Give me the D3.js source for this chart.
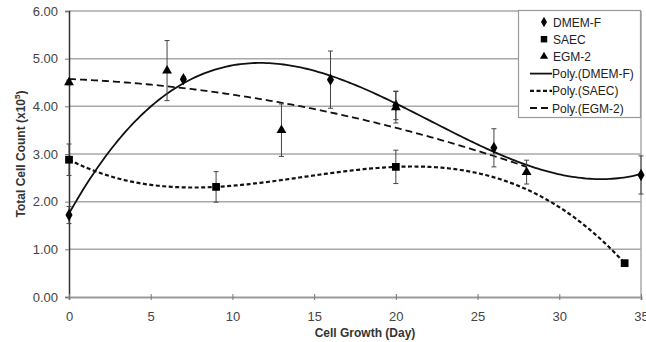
<!DOCTYPE html>
<html>
<head>
<meta charset="utf-8">
<script src="https://cdn.jsdelivr.net/npm/d3@7/dist/d3.min.js"></script>
<style>
  html, body { margin: 0; padding: 0; background: #fff; }
  svg { display: block; font-family: "Liberation Sans", Arial, sans-serif; }
</style>
</head>
<body>
<svg id="chart" width="646" height="342"></svg>
<script>
// data
var dmemDays = [0, 7, 16, 20, 26, 35];
var dmemVals = [1.72, 4.57, 4.56, 4.02, 3.13, 2.56];
var dmemErr  = [0.18, 0.05, 0.60, 0.30, 0.40, 0.40];

var saecDays = [0, 9, 20, 34];
var saecVals = [2.88, 2.31, 2.73, 0.71];
var saecErr  = [0.33, 0.32, 0.35, 0.03];

var egmDays = [0, 6, 13, 20, 28];
var egmVals = [4.50, 4.75, 3.50, 3.98, 2.62];
var egmErr  = [0.05, 0.63, 0.55, 0.33, 0.25];

var xTicks = [0, 5, 10, 15, 20, 25, 30, 35];
var yTicks = [0, 1, 2, 3, 4, 5, 6];

var legendNames = ['DMEM-F', 'SAEC', 'EGM-2', 'Poly.(DMEM-F)', 'Poly.(SAEC)', 'Poly.(EGM-2)'];

// least squares polynomial (what Excel's "Poly." trendline does)
function polyFit(xs, ys, order) {
  var n = order + 1, A = [], i, j, k;
  for (i = 0; i < n; i++) {
    A.push([]);
    for (j = 0; j <= n; j++) A[i].push(0);
  }
  xs.forEach(function (x, p) {
    for (i = 0; i < n; i++) {
      for (j = 0; j < n; j++) A[i][j] += Math.pow(x, i + j);
      A[i][n] += ys[p] * Math.pow(x, i);
    }
  });
  for (i = 0; i < n; i++) {
    var piv = i;
    for (k = i + 1; k < n; k++) if (Math.abs(A[k][i]) > Math.abs(A[piv][i])) piv = k;
    var tmp = A[i]; A[i] = A[piv]; A[piv] = tmp;
    for (k = i + 1; k < n; k++) {
      var f = A[k][i] / A[i][i];
      for (j = i; j <= n; j++) A[k][j] -= f * A[i][j];
    }
  }
  var c = new Array(n).fill(0);
  for (i = n - 1; i >= 0; i--) {
    var s = A[i][n];
    for (j = i + 1; j < n; j++) s -= A[i][j] * c[j];
    c[i] = s / A[i][i];
  }
  return function (x) { return c.reduce(function (a, ci, p) { return a + ci * Math.pow(x, p); }, 0); };
}

var svg = d3.select('#chart');
var x = d3.scaleLinear().domain([0, 35]).range([69, 641]);
var y = d3.scaleLinear().domain([0, 6]).range([297, 11]);

// gridlines
svg.append('g').selectAll('line').data(yTicks.slice(1)).join('line')
  .attr('x1', x(0)).attr('x2', x(35))
  .attr('y1', function (d) { return y(d); }).attr('y2', function (d) { return y(d); })
  .attr('stroke', '#a8a8a8').attr('stroke-width', 1.5);

// right border of plot area
svg.append('line').attr('x1', x(35)).attr('x2', x(35)).attr('y1', y(6)).attr('y2', y(0))
  .attr('stroke', '#a8a8a8').attr('stroke-width', 1.5);

// axes
var yAxis = svg.append('g').attr('transform', 'translate(' + x(0) + ',0)')
  .call(d3.axisLeft(y).tickValues(yTicks).tickFormat(d3.format('.2f')).tickSize(4).tickPadding(7));
var xAxis = svg.append('g').attr('transform', 'translate(0,' + y(0) + ')')
  .call(d3.axisBottom(x).tickValues(xTicks).tickSize(3).tickPadding(12));
yAxis.select('.domain').attr('stroke', '#333').attr('stroke-width', 1.5);
xAxis.select('.domain').attr('stroke', '#999').attr('stroke-width', 2);
svg.selectAll('.tick line').attr('stroke', '#777');
xAxis.selectAll('.tick line').attr('y1', -3);
svg.selectAll('.tick text').attr('fill', '#444').style('font-size', '13px').style('font-family', '"Liberation Sans", Arial, sans-serif');

// axis titles
svg.append('text').attr('x', 365).attr('y', 337).attr('text-anchor', 'middle')
  .style('font-size', '12px').style('font-weight', 'bold').attr('fill', '#333').text('Cell Growth (Day)');
var yt = svg.append('text').attr('transform', 'translate(25,154) rotate(-90)').attr('text-anchor', 'middle')
  .style('font-size', '12px').style('font-weight', 'bold').attr('fill', '#333');
yt.append('tspan').text('Total Cell Count (x10');
yt.append('tspan').attr('dy', -5).style('font-size', '8px').text('5');
yt.append('tspan').attr('dy', 5).text(')');

// trendlines
var series = [
  { days: dmemDays, vals: dmemVals, err: dmemErr, order: 3, sym: d3.symbolDiamond, size: 44, dash: null, w: 1.8 },
  { days: saecDays, vals: saecVals, err: saecErr, order: 3, sym: d3.symbolSquare, size: 60, dash: '4,2.5', w: 2.2 },
  { days: egmDays, vals: egmVals, err: egmErr, order: 2, sym: d3.symbolTriangle, size: 42, dash: '7,4', w: 1.8 }
];
var line = d3.line().x(function (d) { return x(d[0]); }).y(function (d) { return y(d[1]); });
series.forEach(function (s) {
  var f = polyFit(s.days, s.vals, s.order);
  var lo = d3.min(s.days), hi = d3.max(s.days);
  var pts = d3.range(0, 201).map(function (i) { var t = lo + (hi - lo) * i / 200; return [t, f(t)]; });
  svg.append('path').datum(pts).attr('d', line).attr('fill', 'none')
    .attr('stroke', '#111').attr('stroke-width', s.w).attr('stroke-dasharray', s.dash);
});

// error bars and markers
series.forEach(function (s) {
  var data = s.days.map(function (d, i) { return { d: d, v: s.vals[i], e: s.err[i] }; });
  var eb = svg.append('g').attr('stroke', '#444').attr('stroke-width', 1);
  eb.selectAll('line.v').data(data).join('line')
    .attr('x1', function (p) { return x(p.d); }).attr('x2', function (p) { return x(p.d); })
    .attr('y1', function (p) { return y(p.v - p.e); }).attr('y2', function (p) { return y(p.v + p.e); });
  [-1, 1].forEach(function (sg) {
    eb.selectAll('line.c' + sg).data(data).join('line')
      .attr('x1', function (p) { return x(p.d) - 2.5; }).attr('x2', function (p) { return x(p.d) + 2.5; })
      .attr('y1', function (p) { return y(p.v + sg * p.e); }).attr('y2', function (p) { return y(p.v + sg * p.e); });
  });
  svg.append('g').selectAll('path').data(data).join('path')
    .attr('d', d3.symbol().type(s.sym).size(s.size))
    .attr('transform', function (p) { return 'translate(' + x(p.d) + ',' + y(p.v) + ')'; })
    .attr('fill', '#000');
});

// legend
var lg = svg.append('g');
lg.append('rect').attr('x', 518.5).attr('y', 10.5).attr('width', 122).attr('height', 107)
  .attr('fill', '#fff').attr('stroke', '#999').attr('stroke-width', 1.2);
var rowY = d3.scalePoint().domain(legendNames).range([22, 108]);
legendNames.forEach(function (name, i) {
  var ry = rowY(name);
  if (i < 3) {
    lg.append('path').attr('d', d3.symbol().type(series[i].sym).size(series[i].size * 0.7))
      .attr('transform', 'translate(544,' + ry + ')').attr('fill', '#000');
  } else {
    lg.append('line').attr('x1', 530).attr('x2', 552).attr('y1', ry).attr('y2', ry)
      .attr('stroke', '#111').attr('stroke-width', series[i - 3].w).attr('stroke-dasharray', series[i - 3].dash);
  }
  lg.append('text').attr('x', i < 3 ? 553 : 552).attr('y', ry + 4.5)
    .style('font-size', '12px').attr('fill', '#222').text(name);
});
</script>
</body>
</html>
